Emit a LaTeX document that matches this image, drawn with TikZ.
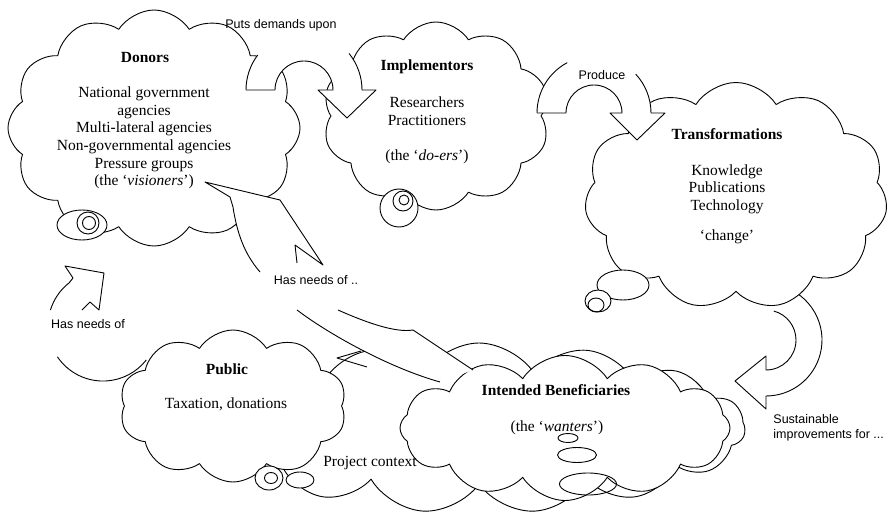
\documentclass[tikz,border=0pt]{standalone}
\usepackage{fontspec}
\setmainfont{Liberation Serif}
\newfontfamily\labelfont{Liberation Sans}
\usetikzlibrary{shapes.symbols}
\begin{document}
\begin{tikzpicture}[x=1pt,y=-1pt,line width=0.9pt,line join=round,
  cloudbox/.style={cloud,draw,fill=white,cloud puffs=#1,cloud puff arc=115,cloud ignores aspect,inner sep=0pt},
  bodytext/.style={font=\fontsize{15.5}{17.6}\selectfont,align=center,inner sep=1pt},
  headtext/.style={font=\fontsize{15.5}{17.6}\selectfont\bfseries,inner sep=1pt},
  sanslabel/.style={font=\labelfont\fontsize{12.5}{15}\selectfont,inner sep=1pt},
  bubble/.style={draw,fill=white}]
\useasboundingbox (0,0) rectangle (889,516);

% ---- bottom clouds
\node[cloudbox=15,minimum width=532,minimum height=170] (context) at (479,428) {};
\node[cloudbox=12,minimum width=330,minimum height=145] (benef) at (565,428) {};

% ---- arrow "Has needs of" (Public -> Donors)
\draw (57.4,356.8) arc[start angle=146,end angle=38,radius=55];
\draw (50.4,310.1) arc[start angle=197,end angle=232,radius=55] -- (73,278) -- (65,266) -- (104,273) -- (99,310) -- (90,302) -- (82,310);

\node[cloudbox=10,minimum width=227,minimum height=152] (public) at (233,406) {};
\node[cloudbox=12,minimum width=292,minimum height=236] (donors) at (154,128) {};
\node[cloudbox=10,minimum width=227,minimum height=188] (impl) at (436,116) {};

% ---- arrow "Sustainable improvements for" (Transformations -> Beneficiaries)
\draw[fill=white] (780.5,285.9) arc[start angle=285,end angle=450,radius=56] -- (766,409) -- (735,381) -- (766,356) -- (766,370) arc[start angle=90,end angle=-75,radius=30];

\node[cloudbox=11,minimum width=303,minimum height=227] (trans) at (736,196) {};

% ---- thought bubbles
\draw[bubble] (82,225) ellipse[x radius=25,y radius=15];
\draw (88,223) circle[radius=11];
\draw (89,223) circle[radius=6.5];
\draw[bubble] (399,208) circle[radius=19];
\draw (403,201) circle[radius=10];
\draw (404,200) circle[radius=5];
\draw[bubble] (623,285) ellipse[x radius=26,y radius=15];
\draw[bubble] (598,301) ellipse[x radius=13,y radius=11];
\draw (596,305) ellipse[x radius=8,y radius=7];
\draw[bubble] (300,480) ellipse[x radius=14,y radius=8];
\draw[bubble] (269,478) ellipse[x radius=14,y radius=12];
\draw (271,478) ellipse[x radius=6.5,y radius=5.5];

% ---- arrow "Puts demands upon" (Donors -> Implementors)
\fill[white] (246,90) -- (275,90) arc[start angle=180,end angle=360,radius=29] -- (318,90) -- (347,118) -- (376,90) -- (362,90) arc[start angle=0,end angle=-180,radius=58] -- cycle;
\draw (246,90) arc[start angle=180,end angle=217,radius=58];
\draw (246,90) -- (275,90) arc[start angle=180,end angle=360,radius=29] -- (318,90) -- (347,118) -- (376,90) -- (362,90) arc[start angle=0,end angle=-39,radius=58];

% ---- arrow "Produce" (Implementors -> Transformations)
\fill[white] (537,113) -- (566,113) arc[start angle=180,end angle=360,radius=28] -- (610,113) -- (637,140) -- (665,113) -- (651,113) arc[start angle=0,end angle=-180,radius=57] -- cycle;
\draw (537,113) arc[start angle=180,end angle=242,radius=57];
\draw (537,113) -- (566,113) arc[start angle=180,end angle=360,radius=28] -- (610,113) -- (637,140) -- (665,113) -- (651,113) arc[start angle=0,end angle=-43,radius=57];

% ---- arrow "Has needs of .." (Beneficiaries -> Donors)
\fill[white] (205,182) -- (280,200) -- (323,265) -- (295,245) -- (297,263) -- (260,272) .. controls (248,258) and (238,240) .. (233,207) -- (230,197) -- cycle;
\draw (297,263) -- (295,245) -- (323,265) -- (280,200) -- (205,182) -- (230,197) -- (233,207) .. controls (238,240) and (248,258) .. (260,272);
\fill[white] (297,310) .. controls (330,335) and (390,368) .. (440,382) -- (473,370) -- (413,330) .. controls (395,333) and (365,322) .. (338,310) -- cycle;
\draw (297,310) .. controls (330,335) and (390,368) .. (440,382);
\draw (338,310) .. controls (365,322) and (395,333) .. (413,330) -- (473,370);

% small arrowhead at Public
\draw (361,351) -- (337,358) -- (367,367);

% ---- wanters bubbles
\draw (568,438) ellipse[x radius=10,y radius=4.5];
\draw (577,455) ellipse[x radius=19.5,y radius=7.5];
\draw (588,484) ellipse[x radius=28.5,y radius=11];

% ---- texts
\node[headtext] (tdonors) at (145,58) {Donors};
\node[bodytext] (bdonors) at (144,138) {National government\\agencies\\Multi-lateral agencies\\Non-governmental agencies\\Pressure groups\\(the ‘\textit{visioners}’)};
\node[sanslabel] (lputs) at (281,25) {Puts demands upon};
\node[headtext] (timpl) at (427,67) {Implementors};
\node[bodytext] (bimpl) at (427,111) {Researchers\\Practitioners};
\node[bodytext] (doers) at (427,157) {(the ‘\textit{do-ers}’)};
\node[sanslabel] (lprod) at (602,75) {Produce};
\node[headtext] (ttrans) at (727,134) {Transformations};
\node[bodytext] (btrans) at (727,189) {Knowledge\\Publications\\Technology};
\node[bodytext] (change) at (727,237) {‘change’};
\node[sanslabel] (lneedsa) at (316,280) {Has needs of ..};
\node[sanslabel] (lneedsb) at (88,324) {Has needs of};
\node[headtext] (tpublic) at (227,369) {Public};
\node[bodytext] (bpublic) at (226,404) {Taxation, donations};
\node[bodytext] (lcontext) at (370,463) {Project context};
\node[headtext] (tbenef) at (556,390) {Intended Beneficiaries};
\node[bodytext] (wanters) at (557,428) {(the ‘\textit{wanters}’)};
\node[sanslabel,anchor=west,align=left] (lsust) at (772,428) {Sustainable\\improvements for ...};
\end{tikzpicture}
\end{document}
